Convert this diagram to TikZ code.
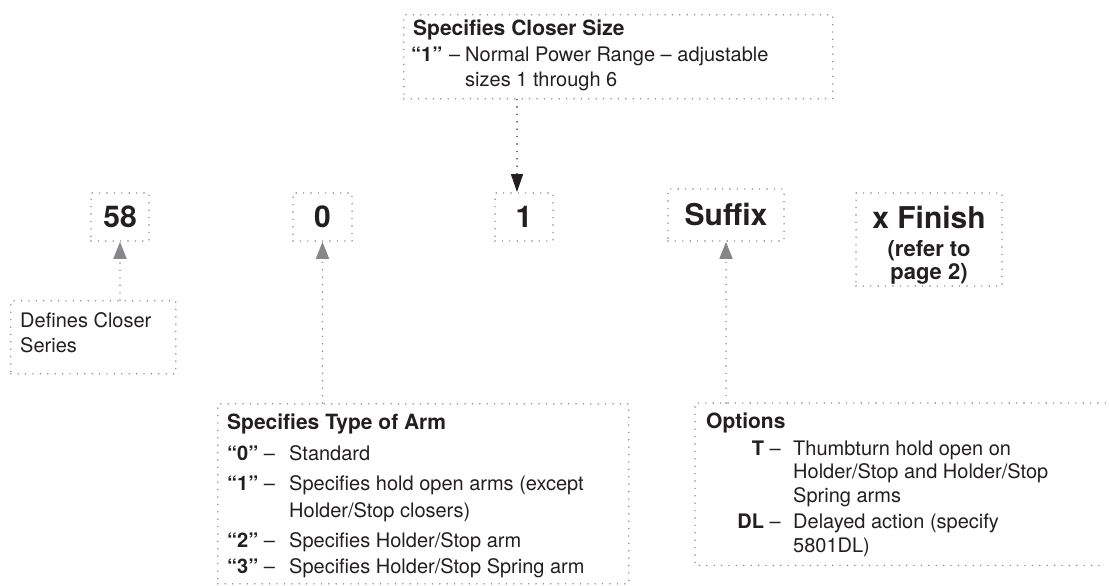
\documentclass[tikz,border=0pt]{standalone}
\usepackage{fontspec}
\setmainfont{TeX Gyre Heros}
\usetikzlibrary{arrows.meta, positioning}

\definecolor{dotgray}{RGB}{135,135,138}
\definecolor{ink}{RGB}{35,31,32}

\tikzset{
    dotline/.style={draw=dotgray, line width=1.6pt, line cap=round, dash pattern=on 0pt off 7.4pt},
    codebox/.style={dotline, rectangle, inner sep=0pt, text=ink, font=\fontsize{30}{32}\selectfont\bfseries},
    infobox/.style={rectangle, inner sep=0pt, anchor=north west},
    txt/.style={anchor=base west, inner sep=0pt, text=ink, font=\fontsize{20}{24}\selectfont},
    keytxt/.style={txt, anchor=base east},
    head/.style={txt, font=\fontsize{21}{24}\selectfont\bfseries},
    finishtxt/.style={anchor=base, inner sep=0pt, text=ink, font=\fontsize{22}{24}\selectfont\bfseries},
    greyarrow/.style={dotline, -{Triangle[width=13pt,length=17pt]}},
    blackarrow/.style={draw=ink, line width=1.6pt, line cap=round, dash pattern=on 0pt off 7.4pt, -{Triangle[width=12pt,length=18pt]}}
}

\begin{document}
\begin{tikzpicture}[x=1pt, y=-1pt]
    \useasboundingbox (0,0) rectangle (1109,586);

    % code parts
    \node[codebox, minimum width=58pt, minimum height=48pt] (series) at (120,217) {58};
    \node[codebox, minimum width=59pt, minimum height=48pt] (arm) at (322.5,217) {0};
    \node[codebox, minimum width=58pt, minimum height=48pt] (size) at (524,217) {1};
    \node[codebox, minimum width=116pt, minimum height=52pt] (suffix) at (726,215) {Suffix};
    \node[codebox, minimum width=146pt, minimum height=93pt] (finish) at (929,239.5) {};
    \node[finishtxt, font=\fontsize{30}{32}\selectfont\bfseries] (finish1) at (929,228) {x Finish};
    \node[finishtxt] (finish2) at (929,256) {(refer to};
    \node[finishtxt] (finish3) at (929,279) {page 2)};

    % explanation boxes
    \node[infobox, dotline, minimum width=429pt, minimum height=84pt] (sizeinfo) at (403,14) {};
    \node[infobox, dotline, minimum width=165pt, minimum height=73pt] (seriesinfo) at (10,300) {};
    \node[infobox, dotline, minimum width=411pt, minimum height=180pt] (arminfo) at (217,403) {};
    \node[infobox, minimum width=410pt, minimum height=162pt] (optinfo) at (695,403) {};
    \draw[dotline] (optinfo.north east) -- (optinfo.north west) -- (optinfo.south west) -- (optinfo.south east);

    % closer size
    \node[head] (sizehead) at (413,36) {Specifies Closer Size};
    \node[txt] (sizekey) at (411,62) {\textbf{“1”}};
    \node[txt] (sizedash) at (449,62) {–};
    \node[txt] (sizedesc1) at (465,62) {Normal Power Range – adjustable};
    \node[txt] (sizedesc2) at (465,86) {sizes 1 through 6};

    % closer series
    \node[txt] (seriesdesc1) at (20,327) {Defines Closer};
    \node[txt] (seriesdesc2) at (20,352) {Series};

    % type of arm
    \node[head] (armhead) at (227,429) {Specifies Type of Arm};
    \foreach \y/\k/\t in {460/0/Standard, 490/1/{Specifies hold open arms (except}, 547/2/{Specifies Holder/Stop arm}, 573/3/{Specifies Holder/Stop Spring arm}} {
        \node[txt] (armkey\k) at (227,\y) {\textbf{“\k”} –};
        \node[txt] (armdesc\k) at (289,\y) {\t};
    }
    \node[txt] (armdesc1b) at (289,517) {Holder/Stop closers)};

    % options
    \node[head] (opthead) at (706,428) {Options};
    \node[keytxt] (optkeyT) at (781,455) {\textbf{T} –};
    \node[txt] (optdescT1) at (793,455) {Thumbturn hold open on};
    \node[txt] (optdescT2) at (793,478) {Holder/Stop and Holder/Stop};
    \node[txt] (optdescT3) at (793,502) {Spring arms};
    \node[keytxt] (optkeyDL) at (781,528) {\textbf{DL} –};
    \node[txt] (optdescDL1) at (793,528) {Delayed action (specify};
    \node[txt] (optdescDL2) at (793,552) {5801DL)};

    % connectors
    \coordinate (sizetip) at (517,192);
    \draw[blackarrow] (sizeinfo.south -| sizetip) -- (sizetip);
    \draw[greyarrow] (seriesinfo.north -| series) -- (series.south);
    \draw[greyarrow] (arminfo.north -| arm) -- (arm.south);
    \draw[greyarrow] (optinfo.north -| suffix) -- (suffix.south);
\end{tikzpicture}
\end{document}
